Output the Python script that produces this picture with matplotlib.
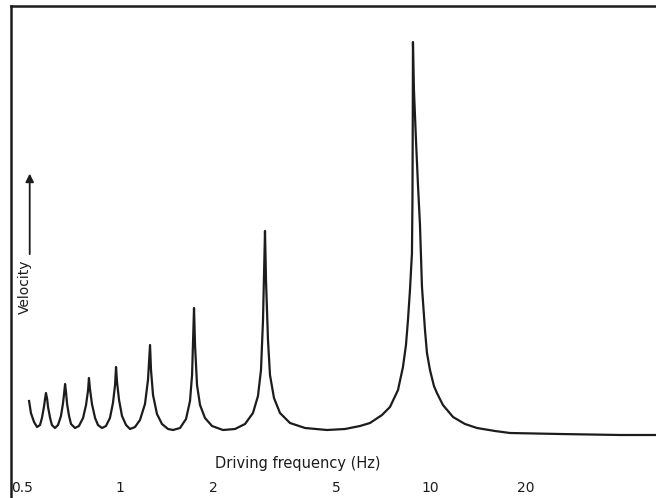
import matplotlib
matplotlib.use('Agg')
import matplotlib.pyplot as plt
import numpy as np

# Data (frequency in Hz, velocity in arbitrary units)
freq = [0.509, 0.516, 0.528, 0.540, 0.552, 0.560, 0.569, 0.573, 0.577, 0.582,
        0.586, 0.595, 0.603, 0.617, 0.631, 0.645, 0.655, 0.660, 0.665, 0.670,
        0.675, 0.685, 0.695, 0.716, 0.737, 0.760, 0.777, 0.789, 0.794, 0.800,
        0.812, 0.831, 0.849, 0.875, 0.901, 0.928, 0.949, 0.964, 0.971, 0.978,
        0.993, 1.015, 1.046, 1.077, 1.118, 1.160, 1.204, 1.231, 1.250, 1.259,
        1.278, 1.316, 1.366, 1.429, 1.483, 1.562, 1.633, 1.682, 1.708, 1.733,
        1.746, 1.772, 1.812, 1.880, 1.981, 2.149, 2.350, 2.531, 2.685, 2.787,
        2.850, 2.893, 2.936, 2.958, 3.002, 3.047, 3.139, 3.282, 3.535, 3.953,
        4.654, 5.319, 5.946, 6.405, 7.001, 7.430, 7.885, 8.182, 8.367, 8.492,
        8.619, 8.747, 8.780, 8.800, 8.812, 8.878, 9.012, 9.147, 9.284, 9.423,
        9.636, 9.779, 10.00, 10.30, 10.53, 11.01, 11.87, 12.97, 14.18, 16.21,
        18.12, 26.27, 41.03, 53.58]
velocity = [9.75, 6.75, 4.5, 3.25, 3.75, 5.5, 8.5, 10.25, 11.75, 10.25,
            8.25, 5.5, 3.75, 3.0, 3.75, 6.0, 9.25, 11.5, 14.0, 11.75,
            9.0, 6.0, 4.0, 3.0, 3.5, 5.5, 8.75, 12.5, 15.5, 12.75,
            9.0, 5.5, 3.75, 3.0, 3.5, 5.5, 9.25, 13.75, 18.25, 14.5,
            10.0, 6.0, 3.75, 2.75, 3.25, 5.0, 9.0, 15.0, 23.75, 17.5,
            11.25, 6.5, 4.0, 2.75, 2.5, 3.0, 5.25, 9.75, 16.25, 33.0,
            23.75, 13.75, 8.75, 5.5, 3.5, 2.5, 2.75, 4.0, 6.75, 11.0,
            17.5, 30.0, 52.25, 40.0, 25.0, 16.25, 10.5, 6.75, 4.25, 3.0,
            2.5, 2.75, 3.5, 4.25, 6.25, 8.25, 12.5, 18.25, 23.75, 30.0,
            37.5, 46.75, 60.0, 80.0, 99.5, 87.5, 75.0, 63.75, 53.75, 38.25,
            27.5, 21.75, 17.5, 13.5, 11.75, 8.75, 5.75, 4.0, 3.0, 2.25,
            1.75, 1.5, 1.25, 1.25]

tick_freqs = [0.5, 1, 2, 5, 10, 20]
tick_labels = ['0.5', '1', '2', '5', '10', '20']

ink = '#1c1c1c'

fig = plt.figure(figsize=(6.56, 4.98), dpi=100)
ax = fig.add_axes([11 / 656, 0, 645 / 656, 492 / 498])

ax.plot(freq, velocity, color=ink, linewidth=1.6, solid_joinstyle='round')

ax.set_xscale('log')
ax.set_xlim(0.445, 53.6)
ax.set_ylim(-14.5, 108.5)
ax.set_xticks([])
ax.set_yticks([])
ax.minorticks_off()
ax.tick_params(which='both', length=0)

for side in ['right', 'bottom']:
    ax.spines[side].set_visible(False)
for side in ['left', 'top']:
    ax.spines[side].set_linewidth(1.8)
    ax.spines[side].set_color(ink)

# Frequency labels sit inside the frame, under the curve
for f, lab in zip(tick_freqs, tick_labels):
    if lab == '0.5':
        ax.text(0.447, -12, lab, ha='left', va='center', fontsize=10, color=ink)
    else:
        ax.annotate(lab, (f, -12), xytext=(2 if f == 20 else 0, 0),
                    textcoords='offset points', ha='center', va='center',
                    fontsize=10, color=ink)

ax.text(3.75, -5.75, 'Driving frequency (Hz)', ha='center', va='center',
        fontsize=10.5, color=ink)

# Velocity label with upward arrow
ax.text(0.022, 0.43, 'Velocity', transform=ax.transAxes, rotation=90,
        ha='center', va='center', fontsize=10, color=ink)
ax.annotate('', xy=(0.029, 0.665), xytext=(0.029, 0.49),
            xycoords='axes fraction', textcoords='axes fraction',
            arrowprops=dict(arrowstyle='-|>', color=ink, lw=1.3,
                            mutation_scale=12))

fig.savefig('out.png', dpi=100)
